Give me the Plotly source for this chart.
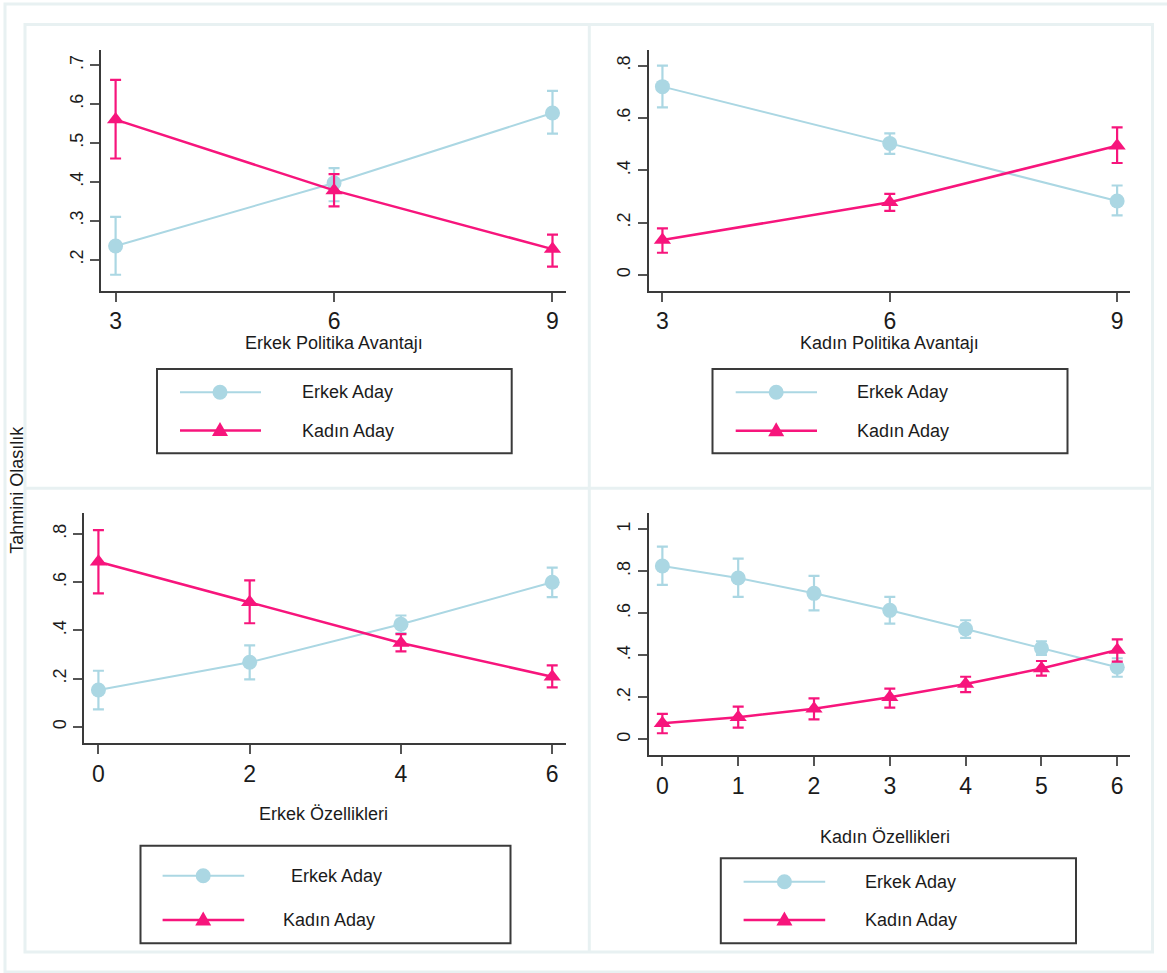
import plotly.graph_objects as go

W, H = 1167, 973

# ---------------- data ----------------
# Panel 1: Erkek Politika Avantajı
p1_x = [3, 6, 9]
p1_erkek = [0.235, 0.397, 0.577]
p1_erkek_lo = [0.161, 0.350, 0.524]
p1_erkek_hi = [0.310, 0.435, 0.634]
p1_kadin = [0.560, 0.378, 0.227]
p1_kadin_lo = [0.460, 0.337, 0.182]
p1_kadin_hi = [0.662, 0.420, 0.264]

# Panel 2: Kadın Politika Avantajı
p2_x = [3, 6, 9]
p2_erkek = [0.720, 0.503, 0.283]
p2_erkek_lo = [0.641, 0.463, 0.228]
p2_erkek_hi = [0.800, 0.541, 0.342]
p2_kadin = [0.134, 0.278, 0.494]
p2_kadin_lo = [0.085, 0.245, 0.428]
p2_kadin_hi = [0.178, 0.310, 0.564]

# Panel 3: Erkek Özellikleri
p3_x = [0, 2, 4, 6]
p3_erkek = [0.153, 0.268, 0.426, 0.600]
p3_erkek_lo = [0.073, 0.197, 0.389, 0.538]
p3_erkek_hi = [0.233, 0.338, 0.462, 0.661]
p3_kadin = [0.685, 0.517, 0.348, 0.208]
p3_kadin_lo = [0.554, 0.430, 0.313, 0.164]
p3_kadin_hi = [0.816, 0.608, 0.385, 0.255]

# Panel 4: Kadın Özellikleri
p4_x = [0, 1, 2, 3, 4, 5, 6]
p4_erkek = [0.825, 0.768, 0.695, 0.614, 0.525, 0.433, 0.343]
p4_erkek_lo = [0.735, 0.678, 0.614, 0.551, 0.483, 0.402, 0.298]
p4_erkek_hi = [0.917, 0.860, 0.778, 0.678, 0.567, 0.467, 0.386]
p4_kadin = [0.076, 0.105, 0.146, 0.200, 0.263, 0.337, 0.425]
p4_kadin_lo = [0.029, 0.056, 0.095, 0.151, 0.225, 0.303, 0.370]
p4_kadin_hi = [0.121, 0.156, 0.195, 0.241, 0.298, 0.373, 0.476]

series_names = ["Erkek Aday", "Kadın Aday"]
x_titles = ["Erkek Politika Avantajı", "Kadın Politika Avantajı",
            "Erkek Özellikleri", "Kadın Özellikleri"]
y_title = "Tahmini Olasılık"

p1_xticks = [3, 6, 9]
p2_xticks = [3, 6, 9]
p3_xticks = [0, 2, 4, 6]
p4_xticks = [0, 1, 2, 3, 4, 5, 6]
p1_yticks = [0.2, 0.3, 0.4, 0.5, 0.6, 0.7]
p1_ylabels = [".2", ".3", ".4", ".5", ".6", ".7"]
p2_yticks = [0, 0.2, 0.4, 0.6, 0.8]
p2_ylabels = ["0", ".2", ".4", ".6", ".8"]
p3_yticks = [0, 0.2, 0.4, 0.6, 0.8]
p3_ylabels = ["0", ".2", ".4", ".6", ".8"]
p4_yticks = [0, 0.2, 0.4, 0.6, 0.8, 1]
p4_ylabels = ["0", ".2", ".4", ".6", ".8", "1"]

# ---------------- styling ----------------
BLUE = "#ABD7E3"
PINK = "#F7157C"
AXC = "#3a3a3a"
TICKC = "#555555"
FRAME = "#E8F1F2"
TXT = "#1b1b1b"
FONT = "Liberation Sans, Arial, sans-serif"


def fx(px):
    return px / W


def fy(py):
    return 1 - py / H


panels = [
    dict(x=p1_x, e=p1_erkek, elo=p1_erkek_lo, ehi=p1_erkek_hi,
         k=p1_kadin, klo=p1_kadin_lo, khi=p1_kadin_hi,
         xt=p1_xticks, yt=p1_yticks, yl=p1_ylabels,
         dom_x=(101.4, 565.6), dom_y=(50, 290.7),
         rx=(2.805, 9.18), ry=(0.12, 0.739),
         title_pos=(334, 343),
         leg_box=(157, 369, 511.7, 453.3), leg_line=(180, 261), leg_mark=220,
         leg_rows=(392.3, 430.5), leg_text=(299.7, 299.7)),
    dict(x=p2_x, e=p2_erkek, elo=p2_erkek_lo, ehi=p2_erkek_hi,
         k=p2_kadin, klo=p2_kadin_lo, khi=p2_kadin_hi,
         xt=p2_xticks, yt=p2_yticks, yl=p2_ylabels,
         dom_x=(648.5, 1130), dom_y=(50, 290.7),
         rx=(2.816, 9.17), ry=(-0.06, 0.86),
         title_pos=(889, 343),
         leg_box=(712.5, 369, 1067.5, 453.3), leg_line=(735.7, 817), leg_mark=776.2,
         leg_rows=(392.3, 430.7), leg_text=(855.2, 855.2)),
    dict(x=p3_x, e=p3_erkek, elo=p3_erkek_lo, ehi=p3_erkek_hi,
         k=p3_kadin, klo=p3_kadin_lo, khi=p3_kadin_hi,
         xt=p3_xticks, yt=p3_yticks, yl=p3_ylabels,
         dom_x=(84.2, 565.6), dom_y=(513.3, 743.3),
         rx=(-0.188, 6.177), ry=(-0.068, 0.886),
         title_pos=(323, 814),
         leg_box=(140.5, 845.7, 510.5, 943.3), leg_line=(162.6, 244.2), leg_mark=203.2,
         leg_rows=(875.7, 920), leg_text=(289, 281.3)),
    dict(x=p4_x, e=p4_erkek, elo=p4_erkek_lo, ehi=p4_erkek_hi,
         k=p4_kadin, klo=p4_kadin_lo, khi=p4_kadin_hi,
         xt=p4_xticks, yt=p4_yticks, yl=p4_ylabels,
         dom_x=(648.5, 1130), dom_y=(513.3, 755.3),
         rx=(-0.183, 6.168), ry=(-0.076, 1.076),
         title_pos=(885, 836.7),
         leg_box=(720.8, 858.3, 1076, 943.3), leg_line=(743.6, 825.2), leg_mark=784.4,
         leg_rows=(881.7, 920), leg_text=(863.4, 863.4)),
]

fig = go.Figure()
shapes = []
annotations = []

# frames (Stata graph region borders)
shapes.append(dict(type="rect", xref="paper", yref="paper",
                   x0=fx(5), x1=fx(1185), y0=fy(972), y1=fy(4),
                   line=dict(color=FRAME, width=3), layer="below"))
shapes.append(dict(type="rect", xref="paper", yref="paper",
                   x0=fx(25), x1=fx(1152.5), y0=fy(952), y1=fy(24.5),
                   line=dict(color=FRAME, width=3), layer="below"))
shapes.append(dict(type="line", xref="paper", yref="paper",
                   x0=fx(589.3), x1=fx(589.3), y0=fy(952), y1=fy(24.5),
                   line=dict(color=FRAME, width=3), layer="below"))
shapes.append(dict(type="line", xref="paper", yref="paper",
                   x0=fx(25), x1=fx(1152.5), y0=fy(488.3), y1=fy(488.3),
                   line=dict(color=FRAME, width=3), layer="below"))

layout_axes = {}
for i, p in enumerate(panels, start=1):
    xa = "x" if i == 1 else f"x{i}"
    ya = "y" if i == 1 else f"y{i}"
    xkey = "xaxis" if i == 1 else f"xaxis{i}"
    ykey = "yaxis" if i == 1 else f"yaxis{i}"

    for name, v, lo, hi, col, sym, lw in [
        (series_names[0], p["e"], p["elo"], p["ehi"], BLUE, "circle", 2),
        (series_names[1], p["k"], p["klo"], p["khi"], PINK, "triangle-up", 2.5),
    ]:
        fig.add_trace(go.Scatter(
            x=p["x"], y=v, name=name, mode="lines+markers",
            xaxis=xa, yaxis=ya, cliponaxis=False,
            line=dict(color=col, width=lw),
            marker=dict(color=col, size=15, symbol=sym),
            error_y=dict(type="data", symmetric=False,
                         array=[h - m for h, m in zip(hi, v)],
                         arrayminus=[m - l for m, l in zip(v, lo)],
                         color=col, thickness=2.2, width=5.5),
            showlegend=False,
        ))

    layout_axes[xkey] = dict(
        domain=[fx(p["dom_x"][0]), fx(p["dom_x"][1])], anchor=ya,
        range=list(p["rx"]), tickvals=p["xt"], ticktext=[str(t) for t in p["xt"]],
        showgrid=False, zeroline=False, showline=True, linecolor=AXC, linewidth=2,
        ticks="outside", ticklen=9, tickwidth=2, tickcolor=TICKC,
        tickfont=dict(size=23, family=FONT, color=TXT), fixedrange=True)
    layout_axes[ykey] = dict(
        domain=[fy(p["dom_y"][1]), fy(p["dom_y"][0])], anchor=xa,
        range=list(p["ry"]), tickvals=p["yt"], ticktext=p["yl"], tickangle=-90,
        showgrid=False, zeroline=False, showline=True, linecolor=AXC, linewidth=2,
        ticks="outside", ticklen=9, tickwidth=2, tickcolor=TICKC,
        tickfont=dict(size=18, family=FONT, color=TXT), fixedrange=True)

    # axis title
    annotations.append(dict(text=x_titles[i - 1], xref="paper", yref="paper",
                            x=fx(p["title_pos"][0]), y=fy(p["title_pos"][1]),
                            xanchor="center", yanchor="middle", showarrow=False,
                            font=dict(size=18, family=FONT, color=TXT)))

    # legend box
    bx0, by0, bx1, by1 = p["leg_box"]
    shapes.append(dict(type="rect", xref="paper", yref="paper",
                       x0=fx(bx0), x1=fx(bx1), y0=fy(by1), y1=fy(by0),
                       line=dict(color=AXC, width=2), fillcolor="white"))
    lx0, lx1 = p["leg_line"]
    for j, (col, nm) in enumerate([(BLUE, series_names[0]), (PINK, series_names[1])]):
        ry_ = p["leg_rows"][j]
        shapes.append(dict(type="line", xref="paper", yref="paper",
                           x0=fx(lx0), x1=fx(lx1), y0=fy(ry_), y1=fy(ry_),
                           line=dict(color=col, width=2 if j == 0 else 2.5)))
        if j == 0:
            shapes.append(dict(type="circle", xref="paper", yref="paper",
                               xsizemode="pixel", ysizemode="pixel",
                               xanchor=fx(p["leg_mark"]), yanchor=fy(ry_),
                               x0=-7.5, x1=7.5, y0=-7.5, y1=7.5,
                               fillcolor=col, line=dict(width=0)))
        else:
            shapes.append(dict(type="path", xref="paper", yref="paper",
                               xsizemode="pixel", ysizemode="pixel",
                               xanchor=fx(p["leg_mark"]), yanchor=fy(ry_),
                               path="M -8,-5.5 L 8,-5.5 L 0,8.5 Z",
                               fillcolor=col, line=dict(width=0)))
        annotations.append(dict(text=nm, xref="paper", yref="paper",
                                x=fx(p["leg_text"][j]), y=fy(ry_),
                                xanchor="left", yanchor="middle", showarrow=False,
                                font=dict(size=18, family=FONT, color=TXT)))

annotations.append(dict(text=y_title, xref="paper", yref="paper",
                        x=fx(16.7), y=fy(490), textangle=-90,
                        xanchor="center", yanchor="middle", showarrow=False,
                        font=dict(size=18, family=FONT, color=TXT)))

fig.update_layout(width=W, height=H, margin=dict(l=0, r=0, t=0, b=0),
                  plot_bgcolor="white", paper_bgcolor="white", showlegend=False,
                  shapes=shapes, annotations=annotations, **layout_axes)

fig.write_html("out.html", config={"displayModeBar": False},
               post_script="document.body.style.margin='0';document.body.style.overflow='hidden';")
